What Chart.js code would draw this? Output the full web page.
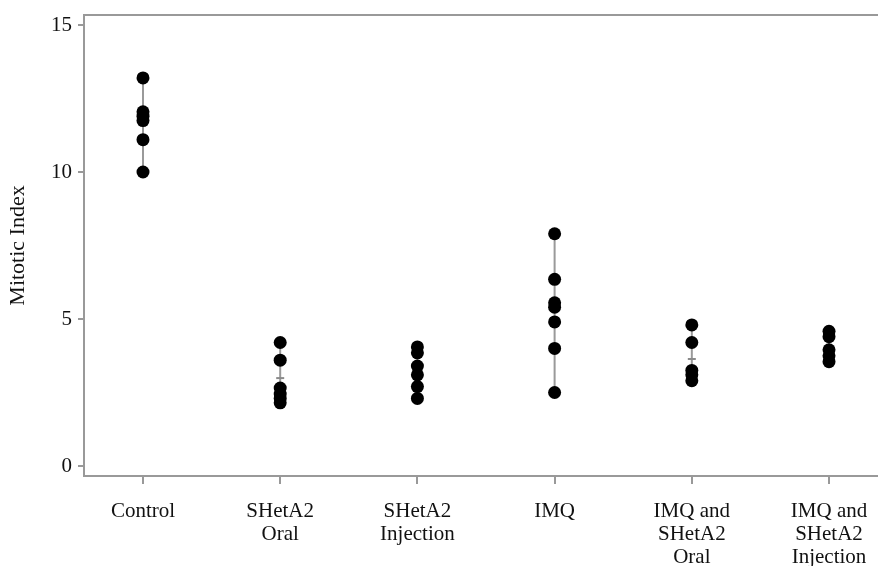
<!DOCTYPE html>
<html>
<head>
<meta charset="utf-8">
<script src="https://cdn.jsdelivr.net/npm/chart.js@4"></script>
<style>
  html, body { margin: 0; padding: 0; background: #fff; }
  #wrap { width: 878px; height: 566px; }
</style>
</head>
<body>
<div id="wrap"><canvas id="chart" width="878" height="566"></canvas></div>
<script>
// groups along the x axis
const groups = [
  ['Control'],
  ['SHetA2', 'Oral'],
  ['SHetA2', 'Injection'],
  ['IMQ'],
  ['IMQ and', 'SHetA2', 'Oral'],
  ['IMQ and', 'SHetA2', 'Injection']
];

// mitotic index of each animal, per group
const control = [13.2, 12.05, 11.9, 11.75, 11.1, 10.0];
const shetOral = [4.2, 3.6, 2.65, 2.45, 2.3, 2.15];
const shetInjection = [4.05, 3.85, 3.4, 3.1, 2.7, 2.3];
const imq = [7.9, 6.35, 5.55, 5.4, 4.9, 4.0, 2.5];
const imqShetOral = [4.8, 4.2, 3.25, 3.1, 2.9];
const imqShetInjection = [4.58, 4.4, 3.95, 3.75, 3.55];

// small mean marks that show between the dots
const means = [null, 2.99, null, null, 3.64, null];

const yTicks = [0, 5, 10, 15];

const allGroups = [control, shetOral, shetInjection, imq, imqShetOral, imqShetInjection];

const datasets = allGroups.map(function(vals, i) {
  return {
    data: vals.map(function(v) { return { x: i + 1, y: v }; }),
    showLine: true,
    borderColor: '#9a9a9a',
    borderWidth: 2,
    pointRadius: 6.5,
    pointBackgroundColor: '#000',
    pointBorderColor: '#000',
    pointBorderWidth: 0
  };
});

datasets.unshift({
  data: means.map(function(v, i) { return v === null ? null : { x: i + 1, y: v }; }).filter(Boolean),
  pointStyle: 'line',
  pointRadius: 4,
  borderColor: '#8a8a8a',
  pointBorderWidth: 2,
  showLine: false
});

const topBorder = {
  id: 'topBorder',
  afterDraw: function(chart) {
    const c = chart.ctx, a = chart.chartArea;
    c.save();
    c.strokeStyle = '#999';
    c.lineWidth = 2;
    c.beginPath();
    c.moveTo(a.left, a.top);
    c.lineTo(chart.width, a.top);
    c.stroke();
    c.restore();
  }
};

const serif = "'Liberation Serif', 'DejaVu Serif', serif";

new Chart(document.getElementById('chart'), {
  type: 'scatter',
  data: { datasets: datasets },
  plugins: [topBorder],
  options: {
    responsive: false,
    animation: false,
    layout: { autoPadding: false, padding: { top: 15, right: 0, bottom: 0, left: 0 } },
    plugins: { legend: { display: false }, tooltip: { enabled: false } },
    scales: {
      x: {
        type: 'linear',
        min: 0.57,
        max: 6.357,
        afterBuildTicks: function(s) { s.ticks = groups.map(function(g, i) { return { value: i + 1 }; }); },
        afterFit: function(s) { s.height = 90; s.paddingRight = 0; s.paddingLeft = 0; },
        grid: { display: true, drawOnChartArea: false, tickLength: 8, color: '#999', lineWidth: 2 },
        border: { display: true, color: '#999', width: 2 },
        ticks: {
          autoSkip: false,
          maxRotation: 0,
          padding: 16,
          color: '#111',
          font: { family: serif, size: 21, lineHeight: 1.1 },
          callback: function(v) { return groups[Math.round(v) - 1]; }
        }
      },
      y: {
        min: -0.34,
        max: 15.34,
        afterBuildTicks: function(s) { s.ticks = yTicks.map(function(v) { return { value: v }; }); },
        afterFit: function(s) { s.width = 84; s.paddingTop = 0; s.paddingBottom = 0; },
        grid: { display: true, drawOnChartArea: false, tickLength: 6, color: '#999', lineWidth: 2 },
        border: { display: true, color: '#999', width: 2 },
        ticks: {
          padding: 6,
          color: '#111',
          font: { family: serif, size: 21 }
        },
        title: {
          display: true,
          text: 'Mitotic Index',
          color: '#111',
          padding: { top: 5, bottom: 0 },
          font: { family: serif, size: 22 }
        }
      }
    }
  }
});
</script>
</body>
</html>
